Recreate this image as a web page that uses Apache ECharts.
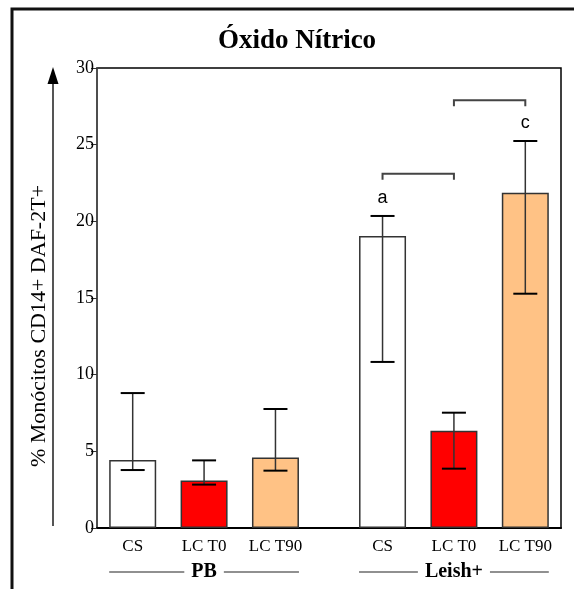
<!DOCTYPE html>
<html>
<head>
<meta charset="utf-8">
<script src="https://cdn.jsdelivr.net/npm/echarts@6/dist/echarts.min.js"></script>
<style>
  html, body { margin: 0; padding: 0; background: #fff; }
  #main { width: 574px; height: 589px; }
</style>
</head>
<body>
<div id="main"></div>
<script>
// data
const categories = ['CS', 'LC T0', 'LC T90', 'CS', 'LC T0', 'LC T90']
const groupNames = ['PB', 'Leish+']
const groupOf = [0, 0, 0, 1, 1, 1]
const means = [4.43, 3.09, 4.59, 19.04, 6.35, 21.87]
const errLow = [3.78, 2.83, 3.74, 10.83, 3.87, 15.28]
const errHigh = [8.8, 4.41, 7.76, 20.35, 7.52, 25.24]
const barColors = ['#ffffff', '#ff0000', '#ffc285', '#ffffff', '#ff0000', '#ffc285']
const letters = ['', '', '', 'a', '', 'c']
// brackets: [from bar, to bar, level]
const brackets = [[3, 4, 23.1], [4, 5, 27.9]]
const yTicks = [0, 5, 10, 15, 20, 25, 30]

const serif = '"Liberation Serif", "DejaVu Serif", serif'
const sans = '"Liberation Sans", Arial, sans-serif'

// slot positions: groups separated by an extra half slot
const xPos = categories.map((c, i) => i + 0.5 + groupOf[i] * 0.5)
const labelAt = {}
xPos.forEach((p, i) => { labelAt[p] = categories[i] })

const chart = echarts.init(document.getElementById('main'))

const errData = xPos.map((p, i) => [p, errLow[i], errHigh[i], i])

const option = {
  animation: false,
  backgroundColor: '#fff',
  grid: {
    left: 97, right: 13, top: 68, bottom: 61,
    show: true, borderColor: '#000', borderWidth: 1.5, backgroundColor: 'transparent'
  },
  xAxis: {
    type: 'value',
    min: 0,
    max: 6.5,
    interval: 0.5,
    splitLine: { show: false },
    axisTick: { show: false },
    axisLine: { show: true, onZero: false, lineStyle: { color: '#000', width: 2 } },
    axisLabel: {
      color: '#000',
      fontFamily: serif,
      fontSize: 17,
      margin: 10,
      showMinLabel: true,
      showMaxLabel: true,
      formatter: v => labelAt[v] || ''
    }
  },
  yAxis: {
    type: 'value',
    min: 0,
    max: 30,
    interval: 5,
    splitLine: { show: false },
    axisLine: { show: true, lineStyle: { color: '#555', width: 1.5 } },
    axisTick: { show: true, length: 6, lineStyle: { color: '#333', width: 1 } },
    axisLabel: {
      color: '#000', fontFamily: serif, fontSize: 18, margin: 3,
      formatter: v => (yTicks.indexOf(v) >= 0 ? String(v) : '')
    }
  },
  series: [
    {
      type: 'bar',
      barWidth: 47,
      data: xPos.map((p, i) => ({
        value: [p, means[i]],
        itemStyle: { color: barColors[i], borderColor: '#333', borderWidth: 1.5 }
      })),
      z: 2
    },
    {
      // error bars + letters
      type: 'custom',
      clip: false,
      z: 3,
      data: errData,
      renderItem: (params, api) => {
        const i = api.value(3)
        const lo = api.coord([api.value(0), api.value(1)])
        const hi = api.coord([api.value(0), api.value(2)])
        const hw = 12
        const kids = [
          { type: 'line', shape: { x1: lo[0], y1: lo[1], x2: hi[0], y2: hi[1] },
            style: { stroke: '#333', lineWidth: 1.5 } },
          { type: 'line', shape: { x1: hi[0] - hw, y1: hi[1], x2: hi[0] + hw, y2: hi[1] },
            style: { stroke: '#000', lineWidth: 2 } },
          { type: 'line', shape: { x1: lo[0] - hw, y1: lo[1], x2: lo[0] + hw, y2: lo[1] },
            style: { stroke: '#000', lineWidth: 2 } }
        ]
        if (letters[i]) {
          kids.push({
            type: 'text',
            style: {
              text: letters[i], x: hi[0], y: hi[1] - 18,
              align: 'center', verticalAlign: 'middle',
              font: '18px ' + sans, fill: '#000'
            }
          })
        }
        return { type: 'group', children: kids }
      }
    },
    {
      // comparison brackets
      type: 'custom',
      clip: false,
      z: 3,
      data: brackets.map(b => [xPos[b[0]], xPos[b[1]], b[2]]),
      renderItem: (params, api) => {
        const a = api.coord([api.value(0), api.value(2)])
        const b = api.coord([api.value(1), api.value(2)])
        return {
          type: 'polyline',
          shape: { points: [[a[0], a[1] + 6], [a[0], a[1]], [b[0], b[1]], [b[0], b[1] + 6]] },
          style: { stroke: '#444', lineWidth: 2, fill: null }
        }
      }
    },
    {
      // group labels under the axis
      type: 'custom',
      clip: false,
      z: 3,
      data: groupNames.map((g, gi) => {
        const idx = groupOf.map((v, i) => (v === gi ? i : -1)).filter(v => v >= 0)
        return [xPos[idx[0]], xPos[idx[idx.length - 1]], gi]
      }),
      renderItem: (params, api) => {
        const a = api.coord([api.value(0), 0])
        const b = api.coord([api.value(1), 0])
        const y = a[1] + 44
        const x1 = a[0] - 23.5
        const x2 = b[0] + 23.5
        return {
          type: 'group',
          children: [
            { type: 'line', shape: { x1: x1, y1: y, x2: x2, y2: y },
              style: { stroke: '#222', lineWidth: 1.2 } },
            { type: 'text', z2: 5,
              style: {
                text: groupNames[api.value(2)], x: (x1 + x2) / 2, y: y,
                align: 'center', verticalAlign: 'middle',
                font: 'bold 20px ' + serif, fill: '#000',
                backgroundColor: '#fff', padding: [0, 7]
              } }
          ]
        }
      }
    }
  ],
  graphic: [
    { type: 'rect', shape: { x: 12, y: 9, width: 620, height: 620 },
      style: { fill: null, stroke: '#111', lineWidth: 3 }, silent: true },
    { type: 'text', x: 297, y: 41,
      style: { text: 'Óxido Nítrico', font: 'bold 27px ' + serif, fill: '#000',
        align: 'center', verticalAlign: 'middle' } },
    { type: 'text', x: 39, y: 326, rotation: Math.PI / 2,
      style: { text: '% Monócitos CD14+ DAF-2T+', font: '22px ' + serif, fill: '#000',
        align: 'center', verticalAlign: 'middle' } },
    { type: 'line', shape: { x1: 53, y1: 526, x2: 53, y2: 80 },
      style: { stroke: '#555', lineWidth: 2 } },
    { type: 'polygon', shape: { points: [[53, 67], [47.5, 84], [58.5, 84]] },
      style: { fill: '#000' } }
  ]
}

chart.setOption(option)
</script>
</body>
</html>
